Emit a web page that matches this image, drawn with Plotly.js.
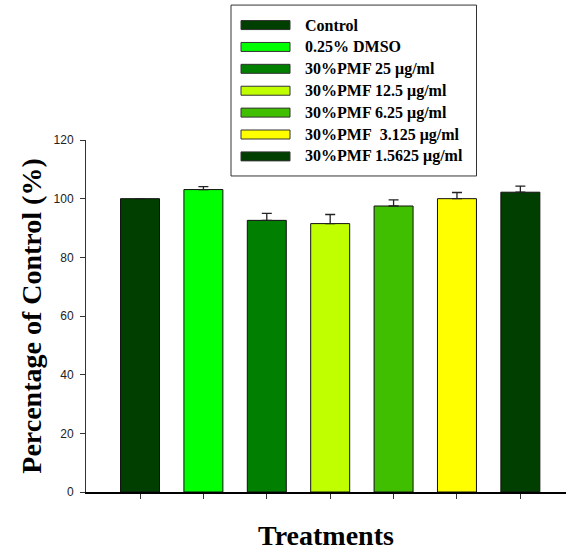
<!DOCTYPE html>
<html>
<head>
<meta charset="utf-8">
<script src="https://cdn.plot.ly/plotly-3.0.1.min.js"></script>
<style>html,body{margin:0;padding:0;background:#fff;}#chart{width:566px;height:555px;}</style>
</head>
<body>
<div id="chart"></div>
<script>
// ---- data ----
const categories = ["Control", "0.25% DMSO", "30%PMF 25 μg/ml", "30%PMF 12.5 μg/ml", "30%PMF 6.25 μg/ml", "30%PMF\u00a0 3.125 μg/ml", "30%PMF 1.5625 μg/ml"];
const values = [100.0, 103.1, 92.6, 91.5, 97.5, 100.0, 102.2];
const errors = [null, 1.0, 2.4, 3.1, 2.1, 2.1, 2.1];
const colors = ["#003f00", "#00ff00", "#007f00", "#bfff00", "#40bf00", "#ffff00", "#003f00"];
const yTicks = [0, 20, 40, 60, 80, 100, 120];

// ---- layout geometry ----
const W = 566, H = 555;
const M = {l: 86, r: 0, t: 139.5, b: 63.3};
const plotW = W - M.l - M.r, plotH = H - M.t - M.b;
const px2x = px => (px - M.l) / plotW;
const px2y = py => (H - M.b - py) / plotH;

const trace = {
  type: "bar",
  x: categories,
  y: values,
  width: 0.615,
  marker: {color: colors, line: {color: "#111", width: 1}},
  error_y: {type: "data", array: errors, symmetric: false, arrayminus: errors.map(() => 0),
            color: "#222", thickness: 1.3, width: 5},
  showlegend: false,
  hoverinfo: "x+y"
};

// custom legend box built from categories/colors
const shapes = [{
  type: "rect", xref: "paper", yref: "paper",
  x0: px2x(231), x1: px2x(476.5), y0: px2y(175.5), y1: px2y(4.5),
  line: {color: "#333", width: 1}, fillcolor: "rgba(0,0,0,0)"
}];
const annotations = [];
const rowY0 = 24.5, rowStep = 21.9;
categories.forEach((c, i) => {
  const cy = rowY0 + i * rowStep;
  shapes.push({
    type: "rect", xref: "paper", yref: "paper",
    x0: px2x(241), x1: px2x(290), y0: px2y(cy + 4.5), y1: px2y(cy - 4.5),
    fillcolor: colors[i], line: {color: "#333", width: 1}
  });
  annotations.push({
    xref: "paper", yref: "paper", x: px2x(303), y: px2y(cy),
    xanchor: "left", yanchor: "middle", showarrow: false,
    text: "<b>" + c + "</b>",
    font: {family: "Liberation Serif, Times New Roman, serif", size: 16, color: "#000"}
  });
});

const layout = {
  width: W, height: H,
  margin: M,
  paper_bgcolor: "#fff", plot_bgcolor: "#fff",
  bargap: 0.385,
  xaxis: {
    range: [-0.852, 6.72],
    showticklabels: false,
    ticks: "outside", ticklen: 5, tickcolor: "#333", tickwidth: 1,
    showline: true, linecolor: "#000", linewidth: 1.5,
    showgrid: false, zeroline: false, fixedrange: true,
    automargin: true,
    title: {text: "<b>Treatments</b>", standoff: 28,
            font: {family: "Liberation Serif, Times New Roman, serif", size: 28, color: "#000"}}
  },
  yaxis: {
    range: [0, 120],
    tickvals: yTicks,
    ticks: "outside", ticklen: 5, tickcolor: "#333", tickwidth: 1,
    showline: true, linecolor: "#333", linewidth: 1,
    showgrid: false, zeroline: false, fixedrange: true,
    ticklabelstandoff: 4,
    automargin: true,
    tickfont: {family: "Liberation Sans, Arial, sans-serif", size: 12, color: "#222"},
    title: {text: "<b>Percentage of Control (%)</b>", standoff: 3,
            font: {family: "Liberation Serif, Times New Roman, serif", size: 28, color: "#000"}}
  },
  shapes: shapes,
  annotations: annotations,
  showlegend: false
};

Plotly.newPlot("chart", [trace], layout, {displayModeBar: false, staticPlot: true});
</script>
</body>
</html>
